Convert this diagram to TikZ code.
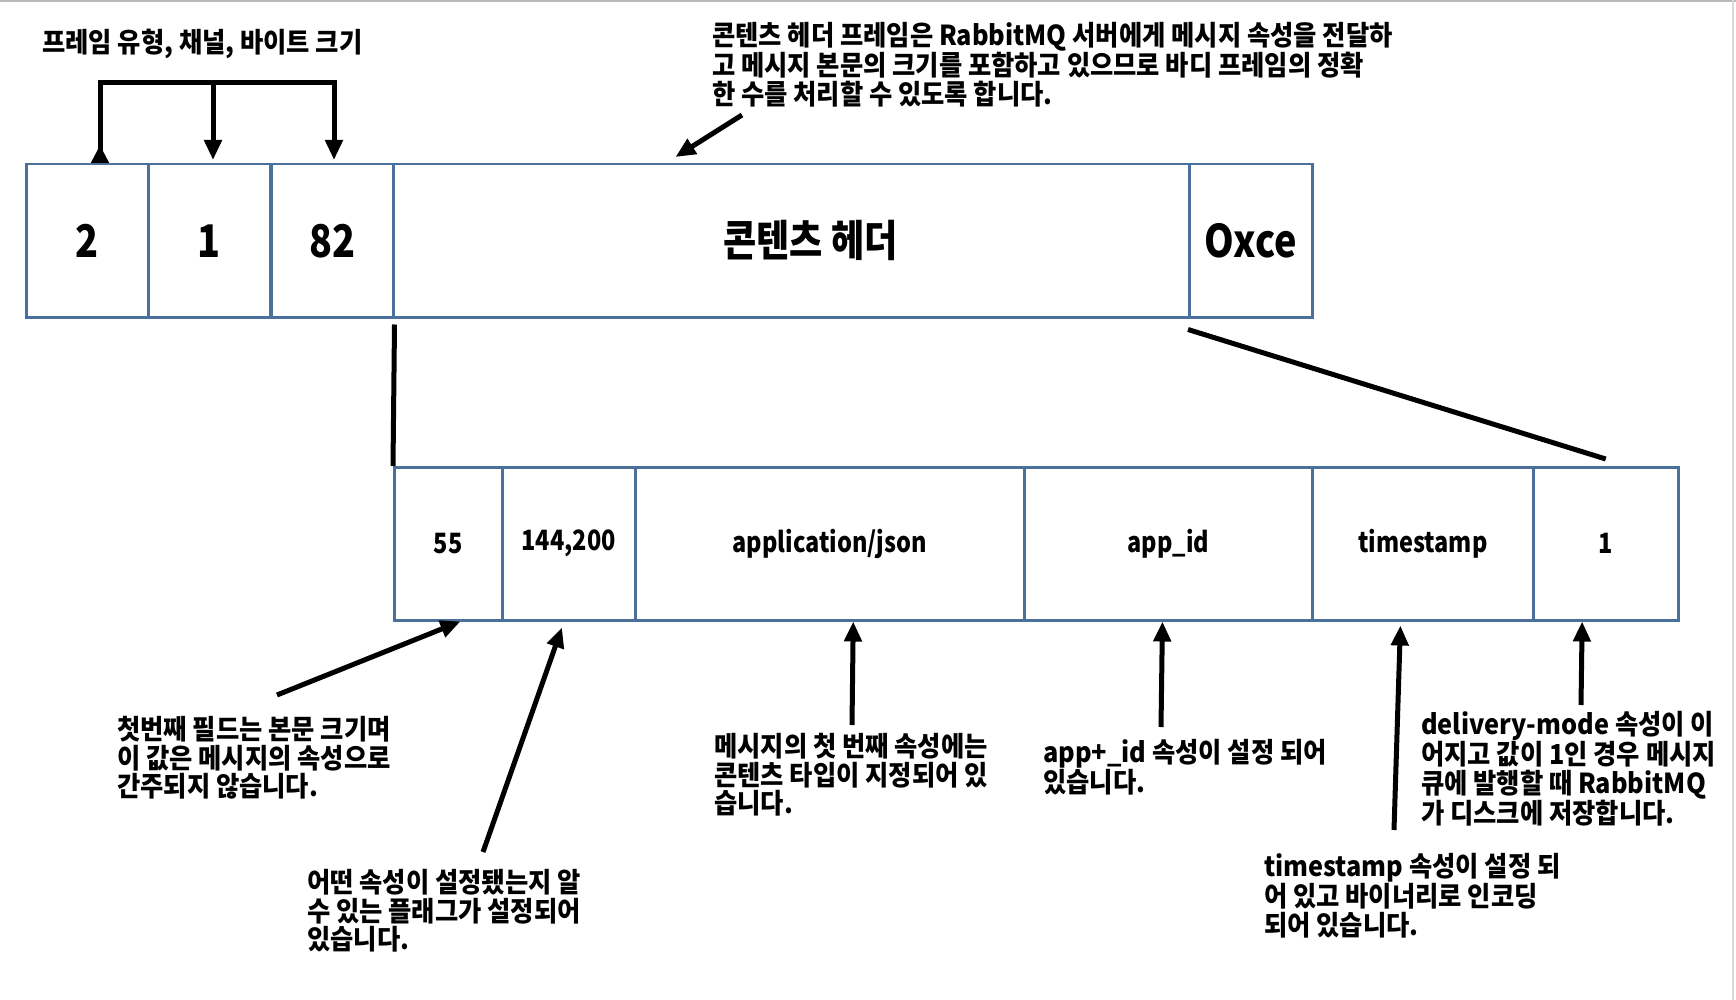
\documentclass[tikz,border=0pt]{standalone}
\usepackage{fontspec}
\newfontfamily\krfont[FakeStretch=0.92]{Noto Sans CJK KR}
\newfontfamily\krnarrow[FakeStretch=0.84]{Noto Sans CJK KR}
\usetikzlibrary{arrows.meta,calc}
\definecolor{boxblue}{RGB}{74,112,155}
\begin{document}
\begin{tikzpicture}[x=1pt,y=-1pt,
  fbox/.style={draw=boxblue,line width=2.5pt,minimum height=153pt,anchor=north west,inner sep=0pt,font={\krnarrow\bfseries\fontsize{45}{48}\selectfont}},
  pbox/.style={fbox,font={\krnarrow\bfseries\fontsize{28}{32}\selectfont}},
  note/.style={anchor=north west,inner sep=0pt,align=left,font={\krfont\bfseries\fontsize{27.5}{28.7}\selectfont}},
  conn/.style={line width=5pt,draw=black,line join=miter},
  arr/.style={conn,-{Triangle[length=20pt,width=17pt]}},
]
\useasboundingbox (0,0) rectangle (1736,1000);
\fill[white] (0,0) rectangle (1736,1000);
\draw[gray!55,line width=2pt] (0,1) -- (1736,1);
\draw[gray!30,line width=2pt] (1733,0) -- (1733,1000);

% top row
\node[fbox,minimum width=122pt] (b2) at (25,163) {2};
\node[fbox,minimum width=122pt] (b1) at (147,163) {1};
\node[fbox,minimum width=122pt] (b82) at (270,163) {82};
\node[fbox,minimum width=796pt,font={\krnarrow\bfseries\fontsize{43}{46}\selectfont}] (bch) at (392,163) {\hspace*{38pt}콘텐츠 헤더};
\node[fbox,minimum width=123pt] (bce) at (1188,163) {Oxce};

% bottom row
\node[pbox,minimum width=108pt] (b55) at (393,466) {\raisebox{-3pt}{55}};
\node[pbox,minimum width=133pt] (b144) at (501,466) {\raisebox{-3pt}{144,200}};
\node[pbox,minimum width=389pt] (bapp) at (634,466) {\raisebox{-3pt}{application/json}};
\node[pbox,minimum width=288pt] (bappid) at (1023,466) {\raisebox{-1pt}{app\_id}};
\node[pbox,minimum width=221pt] (bts) at (1311,466) {\raisebox{-3pt}{timestamp}};
\node[pbox,minimum width=145pt] (b1l) at (1532,466) {\raisebox{-3pt}{1}};

% texts
\node[note] (t0) at (42,29) {프레임 유형, 채널, 바이트 크기};
\node[note] (tTop) at (712,22) {콘텐츠 헤더 프레임은 RabbitMQ 서버에게 메시지 속성을 전달하\\고 메시지 본문의 크기를 포함하고 있으므로 바디 프레임의 정확\\한 수를 처리할 수 있도록 합니다.};
\node[note] (n1) at (117,716) {첫번째 필드는 본문 크기며\\이 값은 메시지의 속성으로\\간주되지 않습니다.};
\node[note] (n2) at (307,869) {어떤 속성이 설정됐는지 알\\수 있는 플래그가 설정되어\\있습니다.};
\node[note] (n3) at (714,733) {메시지의 첫 번째 속성에는\\콘텐츠 타입이 지정되어 있\\습니다.};
\node[note] (n4) at (1043,739) {app+\_id 속성이 설정 되어\\있습니다.};
\node[note] (n5) at (1264,853) {timestamp 속성이 설정 되\\어 있고 바이너리로 인코딩\\되어 있습니다.};
\node[note] (n6) at (1421,711) {delivery-mode 속성이 이\\어지고 값이 1인 경우 메시지\\큐에 발행할 때 RabbitMQ\\가 디스크에 저장합니다.};

% bracket
\coordinate (brL) at (100,83);
\coordinate (brM) at (213,83);
\coordinate (brR) at (334,83);
\draw[conn,{Triangle[reversed,length=18pt,width=17pt]}-{Triangle[length=20pt,width=17pt]}]
  (b2.north -| brL) -- (brL) -- (brR) -- ([yshift=3pt]b82.north -| brR);
\draw[arr] (brM) -- ([yshift=3pt]b1.north -| brM);

% annotation arrows
\coordinate (sTop) at (742,115);
\coordinate (eTop) at ($(bch.north west)!0.355!(bch.north east)+(0,-6)$);
\draw[arr] (sTop) -- (eTop);

\coordinate (s1) at (277,695);
\coordinate (e1) at ($(b55.south west)!0.61!(b55.south east)$);
\draw[arr] (s1) -- (e1);
\coordinate (s2) at (483,852);
\coordinate (e2) at ($(b144.south west)!0.45!(b144.south east)+(0,6)$);
\draw[arr] (s2) -- (e2);
\coordinate (s3) at (852,725);
\coordinate (e3) at ($(bapp.south west)!0.56!(bapp.south east)$);
\draw[arr] (s3) -- (e3);
\coordinate (s4) at (1161,727);
\coordinate (e4) at ($(bappid.south west)!0.48!(bappid.south east)$);
\draw[arr] (s4) -- (e4);
\coordinate (s5) at (1394,830);
\coordinate (e5) at ($(bts.south west)!0.40!(bts.south east)+(0,4)$);
\draw[arr] (s5) -- (e5);
\coordinate (s6) at (1581,705);
\coordinate (e6) at ($(b1l.south west)!0.34!(b1l.south east)$);
\draw[arr] (s6) -- (e6);

% zoom lines
\draw[conn] ([yshift=-6pt]b82.south east) -- (b55.north west);
\draw[conn] ([yshift=-11pt]bce.south west) -- ([yshift=7pt]b1l.north);
\end{tikzpicture}
\end{document}
